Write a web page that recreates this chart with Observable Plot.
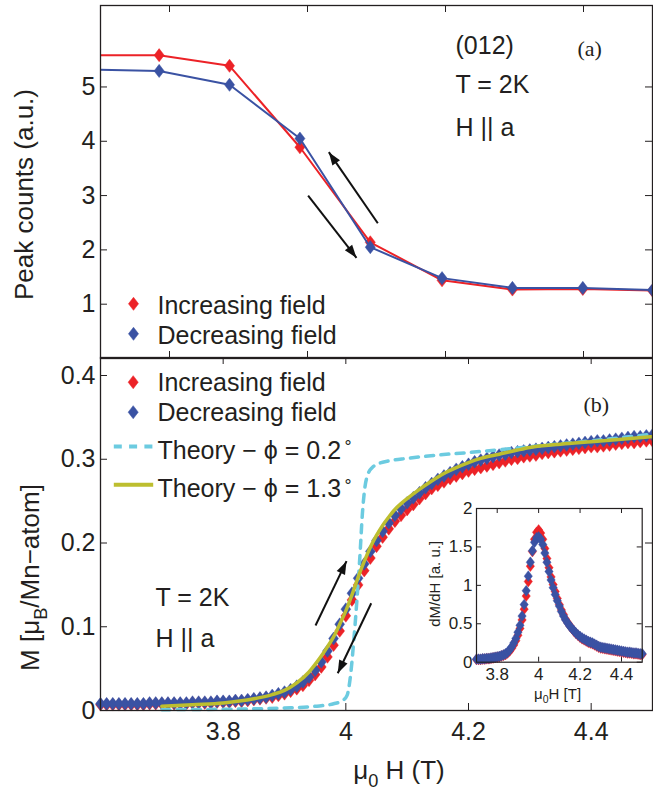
<!DOCTYPE html>
<html><head><meta charset="utf-8">
<script src="https://cdn.jsdelivr.net/npm/d3@7"></script>
<script src="https://cdn.jsdelivr.net/npm/@observablehq/plot@0.6"></script>
<style>
body{margin:0;background:#fff;}
#wrap{position:relative;width:653px;height:793px;overflow:hidden;background:#fff;}
#wrap svg{position:absolute;overflow:visible;}
</style></head><body><div id="wrap"></div>
<script>
// ---------- data: panel (a) peak counts ----------
const peakField      = [3.683, 3.785, 3.887, 3.989, 4.091, 4.195, 4.297, 4.399, 4.500];
const peakIncreasing = [5.585, 5.585, 5.39, 3.89, 2.14, 1.44, 1.27, 1.28, 1.25];
const peakDecreasing = [5.32, 5.295, 5.04, 4.05, 2.05, 1.48, 1.30, 1.30, 1.26];
const peakXTicks = [3.8, 4.0, 4.2, 4.4];
const peakYTicks = [1, 2, 3, 4, 5];

// ---------- data: panel (b) magnetisation ----------
const mField = [3.60,3.61,3.62,3.63,3.64,3.65,3.66,3.67,3.68,3.69,3.70,3.71,3.72,3.73,3.74,3.75,3.76,3.77,3.78,3.79,
3.80,3.81,3.82,3.83,3.84,3.85,3.86,3.87,3.88,3.89,3.90,3.91,3.92,3.93,3.94,3.95,3.96,3.97,3.98,3.99,
4.00,4.01,4.02,4.03,4.04,4.05,4.06,4.07,4.08,4.09,4.10,4.11,4.12,4.13,4.14,4.15,4.16,4.17,4.18,4.19,
4.20,4.21,4.22,4.23,4.24,4.25,4.26,4.27,4.28,4.29,4.30,4.31,4.32,4.33,4.34,4.35,4.36,4.37,4.38,4.39,
4.40,4.41,4.42,4.43,4.44,4.45,4.46,4.47,4.48,4.49,4.50];
const mIncreasing = [0.007,0.007,0.007,0.007,0.007,0.007,0.007,0.007,0.008,0.008,0.008,0.008,0.008,0.008,0.008,0.009,0.009,0.009,0.009,0.010,
0.010,0.010,0.011,0.011,0.012,0.013,0.014,0.015,0.016,0.018,0.020,0.023,0.026,0.030,0.036,0.043,0.052,0.064,0.078,0.095,
0.113,0.132,0.150,0.167,0.182,0.196,0.207,0.217,0.226,0.233,0.240,0.246,0.253,0.259,0.265,0.269,0.273,0.277,0.280,0.283,
0.286,0.288,0.290,0.292,0.294,0.296,0.298,0.300,0.301,0.303,0.304,0.305,0.307,0.308,0.309,0.310,0.311,0.312,0.313,0.314,
0.315,0.315,0.316,0.317,0.318,0.319,0.320,0.320,0.321,0.322,0.322];
const mDecreasing = [0.008,0.008,0.008,0.008,0.008,0.008,0.008,0.008,0.009,0.009,0.009,0.009,0.009,0.009,0.009,0.010,0.010,0.010,0.010,0.011,
0.011,0.011,0.012,0.012,0.013,0.014,0.015,0.016,0.018,0.020,0.022,0.025,0.029,0.034,0.040,0.048,0.058,0.071,0.086,0.103,
0.121,0.140,0.158,0.175,0.190,0.203,0.214,0.224,0.233,0.241,0.248,0.254,0.260,0.266,0.271,0.276,0.280,0.284,0.288,0.291,
0.294,0.297,0.299,0.301,0.303,0.305,0.306,0.308,0.309,0.310,0.311,0.312,0.313,0.314,0.315,0.316,0.317,0.318,0.319,0.320,
0.321,0.322,0.322,0.323,0.324,0.325,0.326,0.327,0.327,0.328,0.329];
const theory02Field = [3.70,3.80,3.90,3.95,3.98,3.995,4.002,4.008,4.013,4.018,4.023,4.027,4.031,4.036,4.043,4.051,4.07,4.10,4.15,4.20,4.30,4.40,4.50];
const theory02M     = [0.001,0.0015,0.003,0.005,0.008,0.012,0.018,0.044,0.084,0.131,0.185,0.235,0.266,0.282,0.290,0.294,0.298,0.301,0.305,0.308,0.315,0.322,0.330];
const theory13Field = [3.70,3.75,3.80,3.85,3.88,3.90,3.92,3.94,3.95,3.96,3.97,3.98,3.99,4.00,4.01,4.02,4.03,4.04,4.05,4.06,4.07,4.08,4.09,4.10,4.12,4.14,4.16,4.18,4.20,4.22,4.25,4.28,4.30,4.35,4.40,4.45,4.50];
const theory13M     = [0.005,0.007,0.009,0.014,0.019,0.024,0.033,0.046,0.055,0.065,0.076,0.088,0.103,0.119,0.138,0.159,0.178,0.195,0.209,0.221,0.231,0.240,0.247,0.253,0.264,0.274,0.283,0.290,0.296,0.301,0.306,0.311,0.314,0.318,0.321,0.324,0.327];
const mXTicks = [3.8, 4.0, 4.2, 4.4];
const mYTicks = [0, 0.1, 0.2, 0.3, 0.4];

// ---------- data: inset dM/dH ----------
const dField = [3.70,3.71,3.72,3.73,3.74,3.75,3.76,3.77,3.78,3.79,3.80,3.81,3.82,3.83,3.84,3.85,3.86,3.87,3.88,3.89,
3.90,3.91,3.92,3.93,3.94,3.95,3.96,3.97,3.98,3.99,4.00,4.01,4.02,4.03,4.04,4.05,4.06,4.07,4.08,4.09,
4.10,4.11,4.12,4.13,4.14,4.15,4.16,4.17,4.18,4.19,4.20,4.21,4.22,4.23,4.24,4.25,4.26,4.27,4.28,4.29,
4.30,4.31,4.32,4.33,4.34,4.35,4.36,4.37,4.38,4.39,4.40,4.41,4.42,4.43,4.44,4.45,4.46,4.47,4.48,4.49,4.50];
const dIncreasing = [0.035,0.035,0.035,0.040,0.040,0.045,0.045,0.050,0.055,0.060,0.065,0.070,0.080,0.090,0.100,0.120,0.145,0.180,0.225,0.280,
0.350,0.440,0.550,0.690,0.860,1.050,1.250,1.440,1.600,1.690,1.720,1.680,1.600,1.480,1.350,1.230,1.110,1.010,0.920,0.830,
0.750,0.680,0.620,0.560,0.515,0.475,0.440,0.405,0.375,0.350,0.325,0.305,0.290,0.275,0.260,0.250,0.240,0.225,0.210,0.195,
0.185,0.180,0.175,0.170,0.165,0.160,0.155,0.150,0.145,0.140,0.135,0.130,0.125,0.120,0.120,0.115,0.110,0.110,0.105,0.100,0.100];
const dDecreasing = [0.040,0.040,0.040,0.045,0.045,0.050,0.050,0.055,0.060,0.065,0.070,0.075,0.085,0.095,0.110,0.130,0.160,0.200,0.250,0.310,
0.390,0.480,0.600,0.750,0.930,1.120,1.300,1.450,1.560,1.620,1.630,1.600,1.530,1.420,1.300,1.180,1.070,0.970,0.880,0.800,
0.730,0.660,0.600,0.550,0.510,0.470,0.440,0.410,0.380,0.355,0.335,0.315,0.300,0.285,0.270,0.260,0.250,0.235,0.220,0.205,
0.195,0.190,0.185,0.180,0.175,0.170,0.165,0.160,0.155,0.150,0.145,0.140,0.135,0.130,0.130,0.125,0.120,0.120,0.115,0.110,0.110];
const dXTicks = [3.8, 4.0, 4.2, 4.4];
const dYTicks = [0, 0.5, 1, 1.5, 2];

// ---------- annotation arrows (data coordinates) ----------
const peakArrows = [
  {x1: 4.1019, y1: 2.491, x2: 4.0309, y2: 3.799},
  {x1: 4.0009, y1: 3.001, x2: 4.071,  y2: 1.854}
];
const mArrows = [
  {x1: 3.9506, y1: 0.1015, x2: 4.0011, y2: 0.1783},
  {x1: 4.0414, y1: 0.1281, x2: 3.9868, y2: 0.0445}
];

// ---------- styling ----------
const RED = "#ec2227", BLUE = "#3a52a3", CYAN = "#6ccbe0", OLIVE = "#bdbe2f", INK = "#231f20";
const FONT = '"Liberation Sans", Arial, Helvetica, sans-serif';
const SERIF = '"Liberation Serif", "Times New Roman", serif';
const FS = 25;

const diamond = { draw(ctx, size) { const h = Math.sqrt(size / 0.385), w = 0.77 * h;
  ctx.moveTo(0, -h/2); ctx.lineTo(w/2, 0); ctx.lineTo(0, h/2); ctx.lineTo(-w/2, 0); ctx.closePath(); } };
const legendLine = { draw(ctx) { ctx.moveTo(-19.7, 0); ctx.lineTo(19.7, 0); } };
const arrowHead = { draw(ctx) { ctx.moveTo(0, 0); ctx.lineTo(-4.6, 13); ctx.lineTo(4.6, 13); ctx.closePath(); } };

const zip = (xs, ys) => xs.map((h, i) => ({h, v: ys[i]}));

function frameTicks(xt, yt, fw, fh, len) {
  return [
    Plot.tickX(xt, {x: d => d, insetTop: fh - len, stroke: INK, strokeWidth: 1}),
    Plot.tickX(xt, {x: d => d, insetBottom: fh - len, stroke: INK, strokeWidth: 1}),
    Plot.tickY(yt, {y: d => d, insetRight: fw - len, stroke: INK, strokeWidth: 1}),
    Plot.tickY(yt, {y: d => d, insetLeft: fw - len, stroke: INK, strokeWidth: 1})
  ];
}
// arrows: shaft as link + filled head rotated along the shaft direction (angle via Plot scales)
function arrows(data, xs, ys) {
  const withAngle = data.map(d => {
    const dx = xs.apply(d.x2) - xs.apply(d.x1), dy = ys.apply(d.y2) - ys.apply(d.y1);
    return {...d, angle: Math.atan2(dx, -dy) * 180 / Math.PI};
  });
  return [
    Plot.link(withAngle, {x1: "x1", y1: "y1", x2: "x2", y2: "y2", stroke: "#111", strokeWidth: 2}),
    Plot.dot(withAngle, {x: "x2", y: "y2", rotate: "angle", symbol: arrowHead, r: 1, fill: "#111", stroke: "none"})
  ];
}
function note(txt, dx, dy, o = {}) {
  return Plot.text([txt], {text: d => d, frameAnchor: o.anchor || "top-left", textAnchor: o.textAnchor || "start",
    lineAnchor: "middle", dx, dy, fontSize: o.fontSize || FS, fontFamily: o.fontFamily || FONT, fill: INK, rotate: o.rotate || 0});
}
function legendDot(color, dx, dy) {
  return Plot.dot([0], {frameAnchor: "top-left", dx, dy, symbol: diamond, r: 4.6, fill: color, stroke: color, strokeWidth: 0.5});
}
function legendStroke(color, dx, dy, dash) {
  return Plot.dot([0], {frameAnchor: "top-left", dx, dy, symbol: legendLine, r: 1, fill: "none", stroke: color, strokeWidth: 4, strokeDasharray: dash});
}
function findText(svg, full) {
  return d3.select(svg).selectAll("text").filter(function() { return this.textContent === full; });
}
function subscript(svg, full, before, sub, after, fs) {
  findText(svg, full).each(function() {
    const t = d3.select(this); t.text(null);
    const s = 0.3 * fs;
    t.append("tspan").text(before);
    t.append("tspan").attr("dy", s).attr("font-size", 0.7 * fs).text(sub);
    t.append("tspan").attr("dy", -s).text(after);
  });
}
function superscriptDegree(svg, full, before, fs) {
  findText(svg, full).each(function() {
    const t = d3.select(this); t.text(null);
    t.append("tspan").text(before);
    t.append("tspan").attr("dx", 2).attr("dy", -0.42 * fs).attr("font-size", 0.62 * fs).text("∘");
  });
}
function place(el, left, top) { el.style.left = left + "px"; el.style.top = top + "px"; document.getElementById("wrap").appendChild(el); }

// ---------- panel (a) ----------
const topXDomain = [3.7, 4.5], topYDomain = [0, 6.5];
const topXs = Plot.scale({x: {domain: topXDomain, range: [100, 652]}});
const topYs = Plot.scale({y: {domain: topYDomain, range: [358, 5]}});
const peakInc = zip(peakField, peakIncreasing), peakDec = zip(peakField, peakDecreasing);
const topPlot = Plot.plot({
  width: 653, height: 360, marginLeft: 100, marginRight: 1, marginTop: 5, marginBottom: 2,
  x: {domain: topXDomain, axis: null},
  y: {domain: topYDomain, axis: null},
  style: {background: "none", fontFamily: FONT, fontSize: FS + "px", color: INK, overflow: "visible"},
  marks: [
    ...frameTicks(peakXTicks, peakYTicks, 552, 353, 7),
    Plot.axisY(peakYTicks, {anchor: "left", tickSize: 0, tickPadding: 5, fontSize: FS, label: null, tickFormat: d => String(d)}),
    Plot.line(peakInc, {x: "h", y: "v", stroke: RED, strokeWidth: 2, clip: true}),
    Plot.dot(peakInc, {x: "h", y: "v", symbol: diamond, r: 4.6, fill: RED, stroke: RED, strokeWidth: 0.5, clip: true}),
    Plot.line(peakDec, {x: "h", y: "v", stroke: BLUE, strokeWidth: 2, clip: true}),
    Plot.dot(peakDec, {x: "h", y: "v", symbol: diamond, r: 4.6, fill: BLUE, stroke: BLUE, strokeWidth: 0.5, clip: true}),
    ...arrows(peakArrows, topXs, topYs),
    note("(012)", 355, 40.3),
    note("T = 2K", 355, 79.7),
    note("H || a", 355, 122),
    note("(a)", 477, 43, {fontFamily: SERIF, fontSize: 22}),
    legendDot(RED, 33, 298.3),
    note("Increasing field", 57, 300.6),
    legendDot(BLUE, 33, 328.3),
    note("Decreasing field", 57, 330.6),
    Plot.text(["Peak counts (a.u.)"], {text: d => d, frameAnchor: "left", textAnchor: "middle", lineAnchor: "middle", rotate: -90, dx: -75.5, dy: 12.5, fontSize: 26, fill: INK}),
    Plot.frame({stroke: INK, strokeWidth: 1.3})
  ]
});

// ---------- panel (b) ----------
const botXDomain = [3.6, 4.5], botYDomain = [0, 0.4215];
const botXs = Plot.scale({x: {domain: botXDomain, range: [100, 652]}});
const botYs = Plot.scale({y: {domain: botYDomain, range: [360, 7]}});
const mInc = zip(mField, mIncreasing), mDec = zip(mField, mDecreasing);
const th02 = zip(theory02Field, theory02M), th13 = zip(theory13Field, theory13M);
const botPlot = Plot.plot({
  width: 653, height: 443, marginLeft: 100, marginRight: 1, marginTop: 7, marginBottom: 83,
  x: {domain: botXDomain},
  y: {domain: botYDomain},
  style: {background: "none", fontFamily: FONT, fontSize: FS + "px", color: INK, overflow: "visible"},
  marks: [
    ...frameTicks(mXTicks, mYTicks, 552, 353, 7),
    Plot.axisX(mXTicks, {anchor: "bottom", tickSize: 0, tickPadding: 12, fontSize: FS, label: null, tickFormat: d => String(d)}),
    Plot.axisY(mYTicks, {anchor: "left", tickSize: 0, tickPadding: 5, fontSize: FS, label: null, tickFormat: d => String(d)}),
    Plot.dot(mInc, {x: "h", y: "v", symbol: diamond, r: 4.5, fill: RED, stroke: RED, strokeWidth: 0.4}),
    Plot.dot(mDec, {x: "h", y: "v", symbol: diamond, r: 4.5, fill: BLUE, stroke: BLUE, strokeWidth: 0.4}),
    Plot.line(th02, {x: "h", y: "v", stroke: CYAN, strokeWidth: 3.5, strokeDasharray: "8,7.3", curve: "monotone-x"}),
    Plot.line(th13, {x: "h", y: "v", stroke: OLIVE, strokeWidth: 3.5, curve: "monotone-x"}),
    ...arrows(mArrows, botXs, botYs),
    legendDot(RED, 32.7, 24.7),
    note("Increasing field", 57, 25.7),
    legendDot(BLUE, 32.7, 54.7),
    note("Decreasing field", 57, 55),
    legendStroke(CYAN, 33, 89, "8,7.3"),
    note("Theory − ϕ = 0.2°", 57, 93.3),
    legendStroke(OLIVE, 33, 127.3, null),
    note("Theory − ϕ = 1.3°", 57, 131.7),
    note("(b)", 483, 47.7, {fontFamily: SERIF, fontSize: 22}),
    note("T = 2K", 55, 240),
    note("H || a", 55, 281.7),
    Plot.text(["M [μB/Mn−atom]"], {text: d => d, frameAnchor: "left", textAnchor: "middle", lineAnchor: "middle", rotate: -90, dx: -70, dy: 43.5, fontSize: 26, fill: INK}),
    Plot.text(["μ0 H (T)"], {text: d => d, frameAnchor: "bottom", textAnchor: "middle", lineAnchor: "middle", dx: 22.5, dy: 60.6, fontSize: 26, fill: INK}),
    Plot.frame({stroke: INK, strokeWidth: 1.3})
  ]
});
subscript(botPlot, "M [μB/Mn−atom]", "M [μ", "B", "/Mn−atom]", 26);
subscript(botPlot, "μ0 H (T)", "μ", "0", " H (T)", 26);
superscriptDegree(botPlot, "Theory − ϕ = 0.2°", "Theory − ϕ = 0.2", FS);
superscriptDegree(botPlot, "Theory − ϕ = 1.3°", "Theory − ϕ = 1.3", FS);

// ---------- inset ----------
const dInc = zip(dField, dIncreasing), dDec = zip(dField, dDecreasing);
const inset = Plot.plot({
  width: 233, height: 205, marginLeft: 56, marginRight: 11.3, marginTop: 8, marginBottom: 43.3,
  x: {domain: [3.7, 4.5]},
  y: {domain: [0, 2]},
  style: {background: "none", fontFamily: FONT, fontSize: "17px", color: INK, overflow: "visible"},
  marks: [
    Plot.frame({fill: "white", stroke: "none"}),
    ...frameTicks(dXTicks, dYTicks, 165.7, 153.7, 5),
    Plot.axisX(dXTicks, {anchor: "bottom", tickSize: 0, tickPadding: 6, fontSize: 17, label: null, tickFormat: d => String(d)}),
    Plot.axisY(dYTicks, {anchor: "left", tickSize: 0, tickPadding: 4, fontSize: 17, label: null, tickFormat: d => String(d)}),
    Plot.dot(dInc, {x: "h", y: "v", symbol: diamond, r: 3.8, fill: RED, stroke: RED, strokeWidth: 0.4}),
    Plot.dot(dDec, {x: "h", y: "v", symbol: diamond, r: 3.8, fill: BLUE, stroke: BLUE, strokeWidth: 0.4}),
    Plot.text(["dM/dH [a. u.]"], {text: d => d, frameAnchor: "left", textAnchor: "middle", lineAnchor: "middle", rotate: -90, dx: -41, dy: -1.5, fontSize: 15, fill: INK}),
    Plot.text(["μ0H [T]"], {text: d => d, frameAnchor: "bottom", textAnchor: "middle", lineAnchor: "middle", dx: -1.8, dy: 31.8, fontSize: 15, fill: INK}),
    Plot.frame({stroke: INK, strokeWidth: 1.2})
  ]
});
subscript(inset, "μ0H [T]", "μ", "0", "H [T]", 15);

place(topPlot, 0, 0);
place(botPlot, 0, 350);
place(inset, 420, 500);
</script>
</body></html>
